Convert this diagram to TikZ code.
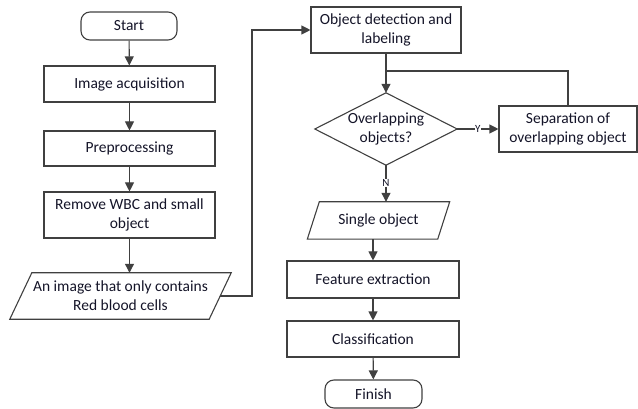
\documentclass[tikz,border=0pt]{standalone}
\usepackage{fontspec}
\setmainfont{Carlito}
\usetikzlibrary{arrows.meta,calc}
\definecolor{linec}{RGB}{64,64,64}
\definecolor{textc}{RGB}{20,20,40}
\tikzset{
  x=1pt,y=-1pt,
  every node/.style={text=textc,font=\fontsize{15.5}{19}\selectfont,align=center,inner sep=0pt},
  procbox/.style={draw=linec,line width=1.1pt,minimum width=#1,rectangle},
  termbox/.style={draw=linec,line width=1.1pt,minimum width=#1,rounded corners=9pt},
  plainbox/.style={minimum width=#1},
  arr/.style={draw=linec,line width=1.1pt,-{Triangle[width=9pt,length=9pt]}},
  conn/.style={draw=linec,line width=1.1pt},
  shapeline/.style={draw=linec,line width=1.1pt,line join=miter},
  yn/.style={font=\fontsize{11}{13}\selectfont,fill=white,inner sep=0.6pt}
}
\begin{document}
\begin{tikzpicture}
\useasboundingbox (0,0) rectangle (638,409);
% left column
\node[termbox=96pt,minimum height=28pt] (start) at (129,26) {Start};
\node[procbox=171pt,minimum height=36pt] (acq) at (129.5,84) {Image acquisition};
\node[procbox=171pt,minimum height=35pt] (pre) at (129.5,148.5) {Preprocessing};
\node[procbox=171pt,minimum height=46pt] (rem) at (129.5,215) {Remove WBC and small\\object};
\node[plainbox=199pt,minimum height=46pt] (img) at (120.5,296) {An image that only contains\\Red blood cells};
\draw[shapeline] ($(img.south west)+(-11,0)$) -- ($(img.south east)+(-11,0)$) -- ($(img.north east)+(11,0)$) -- ($(img.north west)+(11,0)$) -- cycle;
% right column
\node[procbox=150pt,minimum height=46pt] (od) at (386,30) {Object detection and\\labeling};
\node[plainbox=142pt,minimum height=72pt] (dec) at (386,129) {Overlapping\\objects?};
\draw[shapeline] (dec.north) -- (dec.east) -- (dec.south) -- (dec.west) -- cycle;
\node[procbox=138pt,minimum height=46pt] (sep) at (568,129) {Separation of\\overlapping object};
\node[plainbox=130pt,minimum height=37pt] (so) at (378.5,220.5) {Single object};
\draw[shapeline] ($(so.south west)+(-6,0)$) -- ($(so.south east)+(-6,0)$) -- ($(so.north east)+(6,0)$) -- ($(so.north west)+(6,0)$) -- cycle;
\node[procbox=172pt,minimum height=37pt] (fe) at (373,279.5) {Feature extraction};
\node[procbox=172pt,minimum height=36pt] (cl) at (373,339) {Classification};
\node[termbox=97pt,minimum height=28pt] (fin) at (373.5,394) {Finish};
\coordinate (junc) at (386,71);
\coordinate (bend) at (252,296);
% connectors
\draw[arr] (start) -- (acq);
\draw[arr] (acq) -- (pre);
\draw[arr] (pre) -- (rem);
\draw[arr] (rem.south) -- (rem.south |- img.north);
\draw[arr] (img.east) -- (bend) |- (od.west);
\draw[arr] (od.south) -- (dec.north);
\draw[conn] (sep.north) |- (junc);
\draw[arr] (dec.east) -- node[yn,pos=0.5] {Y} (sep.west);
\draw[arr] (dec.south) -- node[yn,pos=0.48] {N} (dec.south |- so.north);
\draw[arr] (fe.north |- so.south) -- (fe.north);
\draw[arr] (fe) -- (cl);
\draw[arr] (cl) -- (fin);
\end{tikzpicture}
\end{document}
